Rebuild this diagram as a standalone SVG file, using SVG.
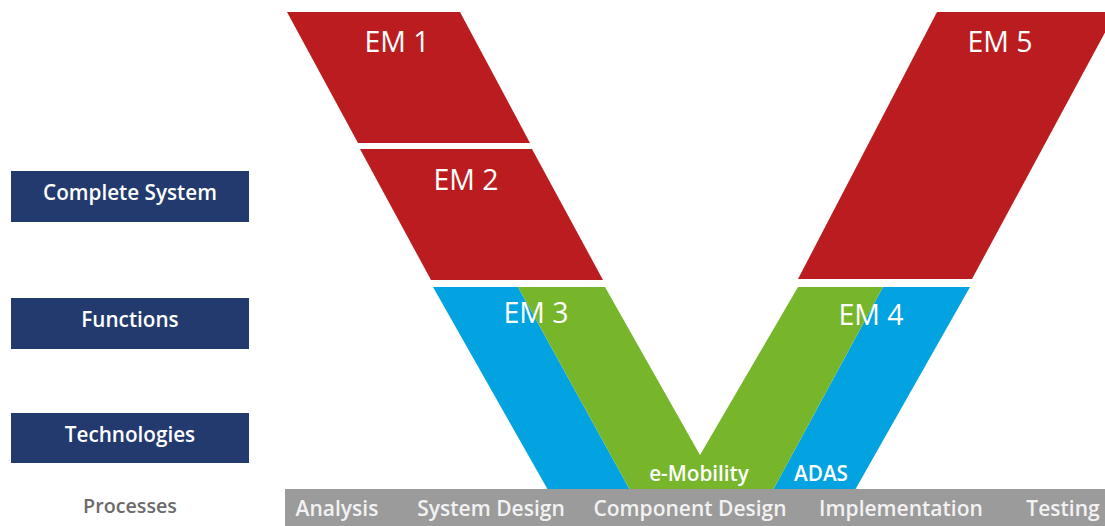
<svg xmlns="http://www.w3.org/2000/svg" width="1105" height="526" viewBox="0 0 1105 526">
<style>
.red{fill:#bb1c20}
.blue{fill:#02a3e0}
.green{fill:#77b62b}
.navy{fill:#223a6d}
.em{font-family:"Open Sans","Liberation Sans",sans-serif;font-size:28.5px;fill:#ffffff;text-anchor:middle}
.lab{font-family:"Open Sans","Liberation Sans",sans-serif;font-size:20.7px;font-weight:600;fill:#ffffff;text-anchor:middle}
.bar{font-family:"Open Sans","Liberation Sans",sans-serif;font-size:21px;font-weight:600;fill:#f2f2f2;text-anchor:middle}
.proc{font-family:"Open Sans","Liberation Sans",sans-serif;font-size:19.7px;font-weight:600;fill:#6b6b6b;text-anchor:middle}
</style>
<rect width="1105" height="526" fill="#ffffff"/>
<g id="levels">
<g id="complete-system"><rect class="navy" x="11" y="171" width="238" height="51"/><text class="lab" x="130" y="200">Complete System</text></g>
<g id="functions"><rect class="navy" x="11" y="298" width="238" height="51"/><text class="lab" x="130" y="327">Functions</text></g>
<g id="technologies"><rect class="navy" x="11" y="413" width="238" height="50"/><text class="lab" x="130" y="442">Technologies</text></g>
<g id="processes"><text class="proc" x="130" y="513">Processes</text></g>
</g>
<g id="em1"><polygon class="red" points="287,12 460,12 530,143 358,143"/><text class="em" x="397" y="52">EM 1</text></g>
<g id="em2"><polygon class="red" points="360,149 532,149 603,280 431,280"/><text class="em" x="466" y="190">EM 2</text></g>
<g id="em5"><polygon class="red" points="937,12 1116,12 972,279 798,279"/><text class="em" x="1000" y="52">EM 5</text></g>
<g id="adas-left"><polygon class="blue" points="433,287 518,287 630,490 548,490"/></g>
<g id="adas-right"><polygon class="blue" points="883,287 970,287 855,490 773,490"/><text class="lab" x="821" y="481">ADAS</text></g>
<g id="emobility"><polygon class="green" points="518,287 605,287 700,455 798,287 883,287 773,490 630,490"/><text class="lab" x="699" y="481">e-Mobility</text></g>
<g id="em3"><text class="em" x="536" y="323">EM 3</text></g>
<g id="em4"><text class="em" x="871" y="325">EM 4</text></g>
<g id="process-bar">
<rect x="285" y="489" width="820" height="37" fill="#9b9b9b"/>
<text class="bar" x="337" y="516">Analysis</text>
<text class="bar" x="491" y="516">System Design</text>
<text class="bar" x="690" y="516">Component Design</text>
<text class="bar" x="901" y="516">Implementation</text>
<text class="bar" x="1063" y="516">Testing</text>
</g>
<g id="connectors"></g>
</svg>
